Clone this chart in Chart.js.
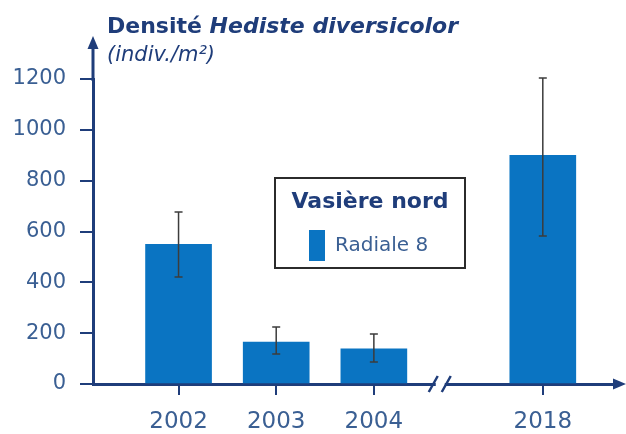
<!DOCTYPE html>
<html><head><meta charset="utf-8">
<script src="https://cdn.jsdelivr.net/npm/chart.js@4.4.0/dist/chart.umd.min.js"></script>
<style>html,body{margin:0;padding:0;background:#fff}#wrap{width:626px;height:434px;position:relative}</style>
</head><body><div id="wrap"><canvas id="c" width="626" height="434"></canvas></div>
<script>
const years = ['2002', '2003', '2004', '2018'];
const xSlots = [0, 1, 2, 3.73];
const density = [550, 165, 138, 900];
const errHigh = [677, 224, 197, 1204];
const errLow = [421, 118, 87, 582];
const yTicks = [0, 200, 400, 600, 800, 1000, 1200];
const seriesName = 'Radiale 8';
const legendTitle = 'Vasière nord';
const titleMain = 'Densité ';
const titleSpecies = 'Hediste diversicolor';
const titleUnit = '(indiv./m²)';

const NAVY = '#1f3d7a';
const BLUE = '#0a74c2';
const TICKC = '#3a5f93';
const FONT = '"DejaVu Sans", sans-serif';

const extras = {
  id: 'extras',
  afterDatasetsDraw(chart) {
    const ctx = chart.ctx, xs = chart.scales.x, ys = chart.scales.y;
    ctx.save();
    ctx.strokeStyle = '#3c3c3c';
    ctx.lineWidth = 1.5;
    xSlots.forEach((v, i) => {
      const px = xs.getPixelForValue(v);
      const t = ys.getPixelForValue(errHigh[i]);
      const b = ys.getPixelForValue(errLow[i]);
      ctx.beginPath();
      ctx.moveTo(px, t); ctx.lineTo(px, b);
      ctx.moveTo(px - 4, t); ctx.lineTo(px + 4, t);
      ctx.moveTo(px - 4, b); ctx.lineTo(px + 4, b);
      ctx.stroke();
    });
    ctx.restore();
  },
  afterDraw(chart) {
    const ctx = chart.ctx, xs = chart.scales.x, ys = chart.scales.y, ca = chart.chartArea;
    ctx.save();
    ctx.strokeStyle = NAVY; ctx.fillStyle = NAVY; ctx.lineWidth = 3;
    const ax = ca.left;
    ctx.beginPath(); ctx.moveTo(ax, ca.top + 2); ctx.lineTo(ax, 46); ctx.stroke();
    ctx.beginPath(); ctx.moveTo(ax, 36); ctx.lineTo(ax - 5.5, 49); ctx.lineTo(ax + 5.5, 49); ctx.closePath(); ctx.fill();
    const ay = ca.bottom;
    ctx.beginPath(); ctx.moveTo(ca.right - 2, ay); ctx.lineTo(616, ay); ctx.stroke();
    ctx.beginPath(); ctx.moveTo(626, ay); ctx.lineTo(613, ay - 5.5); ctx.lineTo(613, ay + 5.5); ctx.closePath(); ctx.fill();
    // axis break
    const bx = xs.getPixelForValue((xSlots[2] + xSlots[3]) / 2 - 0.18);
    ctx.fillStyle = '#fff';
    ctx.fillRect(bx - 5, ay - 3, 9, 6);
    ctx.lineWidth = 2.5;
    ctx.beginPath();
    ctx.moveTo(bx - 12, ay + 8); ctx.lineTo(bx - 3, ay - 8);
    ctx.moveTo(bx + 1, ay + 8); ctx.lineTo(bx + 10, ay - 8);
    ctx.stroke();
    // title
    ctx.fillStyle = NAVY;
    ctx.textBaseline = 'alphabetic';
    ctx.textAlign = 'left';
    ctx.font = 'bold 22px ' + FONT;
    ctx.fillText(titleMain, 107, 33);
    const w = ctx.measureText(titleMain).width;
    ctx.font = 'italic bold 22px ' + FONT;
    ctx.fillText(titleSpecies, 107 + w, 33);
    ctx.font = 'italic 21px ' + FONT;
    ctx.fillText(titleUnit, 107, 61);
    // legend box
    ctx.fillStyle = '#fff';
    ctx.fillRect(275, 178, 190, 90);
    ctx.strokeStyle = '#2b2b2b'; ctx.lineWidth = 2;
    ctx.strokeRect(275, 178, 190, 90);
    ctx.fillStyle = NAVY;
    ctx.font = 'bold 22px ' + FONT;
    ctx.textAlign = 'center';
    ctx.fillText(legendTitle, 370, 208);
    ctx.fillStyle = BLUE;
    ctx.fillRect(309, 230, 16, 31);
    ctx.fillStyle = TICKC;
    ctx.font = '20px ' + FONT;
    ctx.textAlign = 'left';
    ctx.textBaseline = 'middle';
    ctx.fillText(seriesName, 335, 246);
    ctx.restore();
  }
};

new Chart(document.getElementById('c'), {
  type: 'bar',
  data: {
    datasets: [{
      label: seriesName,
      data: xSlots.map((x, i) => ({ x: x, y: density[i] })),
      backgroundColor: BLUE,
      borderWidth: 0,
      barThickness: 66
    }]
  },
  options: {
    responsive: false,
    animation: false,
    devicePixelRatio: 1,
    layout: { padding: { left: 0, top: 79, right: 8, bottom: 0 } },
    plugins: { legend: { display: false }, tooltip: { enabled: false }, title: { display: false } },
    scales: {
      x: {
        type: 'linear',
        offset: false,
        min: -0.876,
        max: 4.5,
        afterFit(s) { s.height = 50; },
        afterBuildTicks(s) { s.ticks = xSlots.map(v => ({ value: v })); },
        ticks: {
          autoSkip: false, maxRotation: 0, padding: 13,
          color: TICKC, font: { family: FONT, size: 23 },
          callback: (v, i) => years[i]
        },
        grid: { offset: false, drawOnChartArea: false, drawTicks: true, tickLength: 11, color: NAVY, lineWidth: 2 },
        border: { display: true, color: NAVY, width: 3 }
      },
      y: {
        min: 0, max: 1200,
        afterFit(s) { s.width = 93; },
        afterBuildTicks(s) { s.ticks = yTicks.map(v => ({ value: v })); },
        ticks: { padding: 14, color: TICKC, font: { family: FONT, size: 21 }, callback: v => String(v) },
        grid: { drawOnChartArea: false, drawTicks: true, tickLength: 13, color: NAVY, lineWidth: 2 },
        border: { display: true, color: NAVY, width: 3 }
      }
    }
  },
  plugins: [extras]
});
</script></body></html>
